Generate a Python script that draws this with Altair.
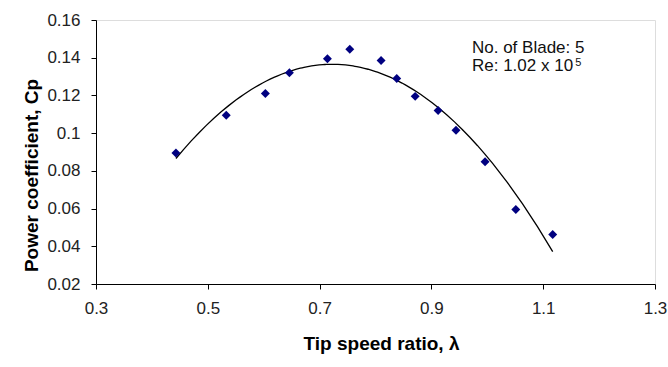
import altair as alt
import pandas as pd

tsr = [0.443, 0.533, 0.603, 0.646, 0.714, 0.754, 0.81, 0.838, 0.871, 0.912, 0.944, 0.996, 1.051, 1.117]
cp = [0.0895, 0.1095, 0.121, 0.132, 0.1395, 0.1445, 0.1385, 0.129, 0.1195, 0.112, 0.1015, 0.0848, 0.0595, 0.0463]

ann_x = [0.9726, 0.9726]
ann_y = [0.1453, 0.1358]
ann_t = ["No. of Blade: 5", "Re: 1.02 x 10"]
sup_x = [1.1575]
sup_y = [0.1371]
sup_t = ["5"]

x_ticks = [0.3, 0.5, 0.7, 0.9, 1.1, 1.3]
y_ticks = [0.02, 0.04, 0.06, 0.08, 0.1, 0.12, 0.14, 0.16]

df = pd.DataFrame({"tsr": tsr, "cp": cp})

FONT = "Liberation Sans"

xs = alt.Scale(domain=[0.3, 1.3], nice=False, zero=False)
ys = alt.Scale(domain=[0.02, 0.16], nice=False, zero=False)

xax = alt.Axis(values=x_ticks, format=".1~f", grid=False,
               title="Tip speed ratio, λ", titleFontSize=19, titleFont=FONT, titleFontWeight="bold",
               titleColor="black", titleX=285, titleY=65, titleBaseline="alphabetic",
               labelFont=FONT, labelFontSize=17, labelOverlap=False,
               labelColor="#222", labelPadding=11, tickSize=5, tickColor="black",
               domainColor="black", labelFlush=False)
yax = alt.Axis(values=y_ticks, format="~g", grid=False,
               title="Power coefficient, Cp", titleFontSize=19, titleFont=FONT, titleFontWeight="bold",
               titleColor="black", titleX=-59, titleY=155, titleAngle=270, titleAlign="center",
               titleBaseline="alphabetic",
               labelFont=FONT, labelFontSize=17, labelOverlap=False, labelBound=False,
               labelColor="#222", labelPadding=11, tickSize=5, tickColor="black",
               domainColor="black", labelFlush=False)

X = lambda f: alt.X(f, scale=xs, axis=xax)
Y = lambda f: alt.Y(f, scale=ys, axis=yax)

pts = alt.Chart(df).mark_point(shape="diamond", filled=True, color="#000080", size=80, opacity=1).encode(
    x=X("tsr:Q"), y=Y("cp:Q"),
)

fit = alt.Chart(df).transform_regression("tsr", "cp", method="poly", order=2).mark_line(
    color="black", strokeWidth=1.3).encode(
    x=X("tsr:Q"), y=Y("cp:Q"),
)

ann_df = pd.DataFrame({"x": ann_x, "y": ann_y, "t": ann_t})
ann = alt.Chart(ann_df).mark_text(align="left", baseline="middle", font=FONT, fontSize=17,
                                  color="#111").encode(
    x=X("x:Q"), y=Y("y:Q"), text="t:N")

sup_df = pd.DataFrame({"x": sup_x, "y": sup_y, "t": sup_t})
sup = alt.Chart(sup_df).mark_text(align="left", baseline="middle", font=FONT, fontSize=11,
                                  color="#111").encode(
    x=X("x:Q"), y=Y("y:Q"), text="t:N")

chart = alt.layer(fit, pts, ann, sup).properties(
    width=559, height=264,
    autosize=alt.AutoSizeParams(type="none"),
    padding={"left": 96, "top": 20, "right": 13, "bottom": 83},
).configure_view(stroke=None).configure(background="white")

chart.save("out.html", embed_options={"renderer": "svg", "actions": False})
